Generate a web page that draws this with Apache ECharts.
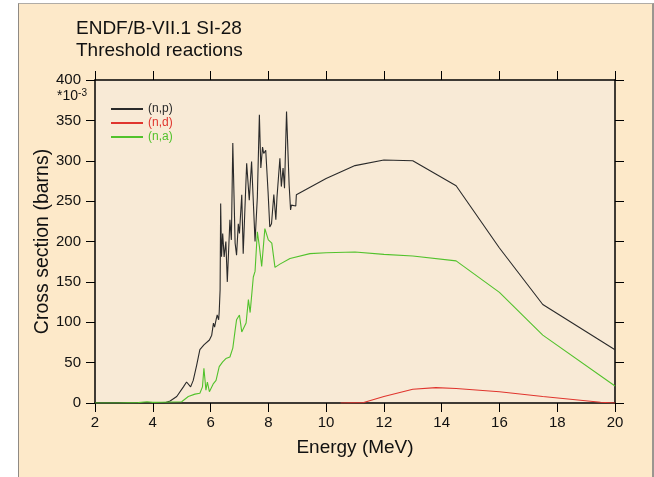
<!DOCTYPE html>
<html>
<head>
<meta charset="utf-8">
<script src="https://cdn.jsdelivr.net/npm/echarts@6/dist/echarts.min.js"></script>
<style>
html,body{margin:0;padding:0;background:#fff;}
#panel{position:absolute;left:18px;top:3px;width:633px;height:474px;background:#FDE9C9;border-left:1px solid #8f8a84;border-top:1px solid #b0aca6;border-right:2px solid #9a9690;}
#c{position:absolute;left:0;top:0;width:654px;height:477px;}
</style>
</head>
<body>
<div id="panel"></div>
<div id="c"></div>
<script>
// ---- data (mb vs MeV) ----
const xTicks = [2,4,6,8,10,12,14,16,18,20];
const yTicks = [0,50,100,150,200,250,300,350,400];

const npE = [2.0,4.4,4.6,4.83,5.06,5.17,5.31,5.40,5.52,5.63,5.77,5.96,6.04,6.10,6.14,6.19,6.23,6.28,6.30,6.33,6.35,6.38,6.42,6.47,6.53,6.58,6.67,6.72,6.77,6.85,6.90,6.96,7.00,7.08,7.13,7.25,7.34,7.42,7.48,7.54,7.62,7.69,7.74,7.80,7.84,7.91,7.99,8.05,8.11,8.19,8.26,8.30,8.40,8.45,8.51,8.56,8.63,8.72,8.77,8.80,8.95,8.97,10,11,12,13,14.5,16,17.5,20];
const npV = [0,0,2.5,8,20,26,20,28,47,66,72,78,84,99,94,103,109,103,113,140,247,181,210,181,200,150,227,202,322,198,183,222,210,258,185,297,251,299,301,200,255,357,291,317,309,313,262,218,222,258,227,255,303,268,291,266,361,270,239,245,244,258,278,294,301,300,269,192,122,66];

const ndE = [10.5,11.3,12,13,13.8,14.5,16,17.5,19.5,20];
const ndV = [0,0.5,8,17,19,18,14,8,1,0];

const naE = [2.0,2.8,3.5,3.8,4.0,4.3,5.0,5.06,5.23,5.46,5.63,5.72,5.77,5.84,5.89,5.96,6.10,6.19,6.26,6.30,6.35,6.42,6.53,6.67,6.77,6.85,6.90,7.00,7.08,7.13,7.23,7.31,7.37,7.42,7.48,7.54,7.62,7.69,7.77,7.88,8.00,8.12,8.23,8.40,8.75,9.44,10,11,12,13,14.5,16,17.5,20];
const naV = [0,0,0.5,1.5,0.8,1,1.5,2,8,11,12,20,43,16,26,14,24,28,39,45,43,51,55,57,68,90,103,109,88,86,99,128,112,132,156,163,212,194,169,216,202,198,168,172,179,185,186,187,184,182,176,137,84,21];

const names = ['(n,p)','(n,d)','(n,a)'];
const colors = ['#2a2a2a','#e0352e','#52c22c'];

function zip(a,b){return a.map((v,i)=>[v,b[i]]);}

const chart = echarts.init(document.getElementById('c'), null, {renderer:'canvas'});
const font = "'Liberation Sans', Arial, Helvetica, sans-serif";
const axisCommon = {
  type:'value',
  axisLine:{show:true,onZero:false,lineStyle:{color:'#000',width:1.5}},
  axisTick:{show:true,inside:false,length:9,lineStyle:{color:'#000',width:1}},
  splitLine:{show:false}
};
chart.setOption({
  backgroundColor:'transparent',
  animation:false,
  textStyle:{fontFamily:font},
  title:{
    text:'ENDF/B-VII.1 SI-28\nThreshold reactions',
    left:71, top:13,
    textStyle:{fontSize:19,fontWeight:'normal',color:'#111',lineHeight:22,fontFamily:font}
  },
  grid:{left:95,right:39,top:80,bottom:74,show:true,backgroundColor:'#F8EAD6',borderWidth:0},
  legend:{
    orient:'vertical', left:106, top:97, itemWidth:32, itemHeight:2, itemGap:0,
    icon:'rect',
    textStyle:{fontSize:12,lineHeight:14,fontFamily:font},
    data:names.map((n,i)=>({name:n,textStyle:{color:colors[i]}}))
  },
  xAxis:[
    Object.assign({},axisCommon,{position:'bottom',min:2,max:20,interval:2,
      name:'Energy (MeV)',nameLocation:'middle',nameGap:35,nameMoveOverlap:false,
      nameTextStyle:{fontSize:19,color:'#111',fontFamily:font},
      axisLabel:{fontSize:15,color:'#111',margin:12,fontFamily:font}}),
    Object.assign({},axisCommon,{position:'top',min:2,max:20,interval:2,axisLabel:{show:false}})
  ],
  yAxis:[
    Object.assign({},axisCommon,{position:'left',min:0,max:400,interval:50,
      name:'Cross section (barns)',nameLocation:'middle',nameGap:42,nameMoveOverlap:false,
      nameTextStyle:{fontSize:19.5,color:'#111',fontFamily:font},
      axisLabel:{fontSize:15,color:'#111',margin:14,fontFamily:font}}),
    Object.assign({},axisCommon,{position:'right',min:0,max:400,interval:50,axisLabel:{show:false}})
  ],
  graphic:[{
    type:'text', right:654-87, top:88,
    style:{
      text:'{a|*10}{b|-3}',
      rich:{a:{fontSize:14,fill:'#111',fontFamily:font},b:{fontSize:10,fill:'#111',fontFamily:font,padding:[0,0,7,0]}}
    }
  }],
  series:[
    {name:names[0],type:'line',data:zip(npE,npV),showSymbol:false,symbol:'none',lineStyle:{width:1.1,color:colors[0]},itemStyle:{color:colors[0]}},
    {name:names[1],type:'line',data:zip(ndE,ndV),showSymbol:false,symbol:'none',lineStyle:{width:1.1,color:colors[1]},itemStyle:{color:colors[1]}},
    {name:names[2],type:'line',data:zip(naE,naV),showSymbol:false,symbol:'none',lineStyle:{width:1.1,color:colors[2]},itemStyle:{color:colors[2]}}
  ]
});
</script>
</body>
</html>
